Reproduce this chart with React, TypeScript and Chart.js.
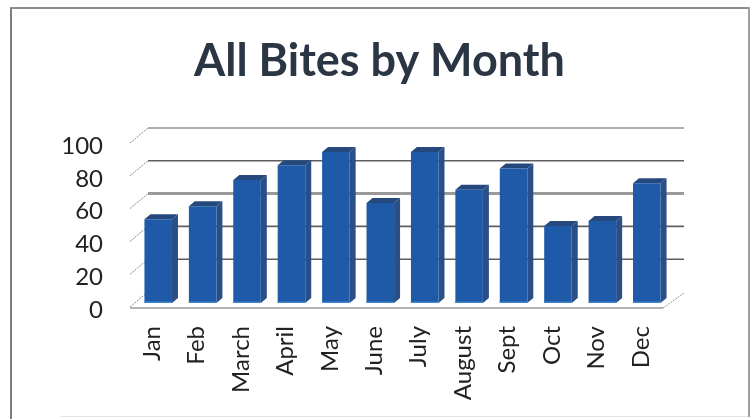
import React, { useEffect, useRef } from "react";
import { Chart, registerables } from "chart.js";

Chart.register(...registerables);

const title = "All Bites by Month";
const months = ["Jan", "Feb", "March", "April", "May", "June", "July", "August", "Sept", "Oct", "Nov", "Dec"];
const bites = [51, 59, 75, 84, 92, 61, 92, 69, 82, 47, 50, 73];
const yTicks = [0, 20, 40, 60, 80, 100];

const DX = 18;
const DY = -15;
const BAR_DX = 6;
const BAR_DY = -5;
const BAR_SHIFT_X = 6;
const BAR_SHIFT_Y = -4;

const frame3d = {
  id: "frame3d",
  afterLayout(chart: any) {
    chart.titleBlock.left += 28;
    chart.titleBlock.right += 28;
  },
  beforeDatasetsDraw(chart: any) {
    const { ctx, scales } = chart;
    const y = scales.y;
    const left = chart.chartArea.left;
    const right = chart.chartArea.right;
    ctx.save();
    yTicks.forEach((v) => {
      const py = y.getPixelForValue(v);
      ctx.strokeStyle = "#8a8a8a";
      ctx.lineWidth = 1;
      ctx.setLineDash([2, 1]);
      ctx.beginPath();
      ctx.moveTo(left, py);
      ctx.lineTo(left + DX, py + DY);
      ctx.stroke();
      ctx.setLineDash([]);
      if (v !== 0) {
        ctx.strokeStyle = v === 60 ? "#9a9a9a" : "#5f5f5f";
        ctx.lineWidth = v === 60 ? 3 : v === 100 ? 1 : 1.6;
        ctx.beginPath();
        ctx.moveTo(left + DX, py + DY);
        ctx.lineTo(right + DX + 3, py + DY);
        ctx.stroke();
      }
    });
    const p0 = y.getPixelForValue(0) + 1;
    ctx.strokeStyle = "#9a9a9a";
    ctx.lineWidth = 1.5;
    ctx.beginPath();
    ctx.moveTo(left, p0);
    ctx.lineTo(right, p0);
    ctx.stroke();
    ctx.lineWidth = 1;
    ctx.setLineDash([2, 1]);
    ctx.beginPath();
    ctx.moveTo(right, p0);
    ctx.lineTo(right + DX + 3, p0 + DY);
    ctx.stroke();
    ctx.restore();
  },
  beforeDatasetDraw(chart: any) {
    const { ctx } = chart;
    ctx.save();
    ctx.translate(BAR_SHIFT_X, BAR_SHIFT_Y);
    chart.getDatasetMeta(0).data.forEach((bar: any) => {
      const l = bar.x - bar.width / 2;
      const r = bar.x + bar.width / 2;
      const t = bar.y;
      const b = bar.base;
      ctx.fillStyle = "#2a4f86";
      ctx.beginPath();
      ctx.moveTo(r, t);
      ctx.lineTo(r + BAR_DX, t + BAR_DY);
      ctx.lineTo(r + BAR_DX, b + BAR_DY);
      ctx.lineTo(r, b);
      ctx.closePath();
      ctx.fill();
      ctx.fillStyle = "#26497d";
      ctx.beginPath();
      ctx.moveTo(l, t);
      ctx.lineTo(l + BAR_DX, t + BAR_DY);
      ctx.lineTo(r + BAR_DX, t + BAR_DY);
      ctx.lineTo(r, t);
      ctx.closePath();
      ctx.fill();
    });
  },
  afterDatasetDraw(chart: any) {
    const { ctx } = chart;
    ctx.fillStyle = "#3f86d0";
    chart.getDatasetMeta(0).data.forEach((bar: any) => {
      ctx.fillRect(bar.x - bar.width / 2, bar.base - 1.5, bar.width, 1.5);
    });
    ctx.restore();
  },
};

export default function App() {
  const ref = useRef<HTMLCanvasElement>(null);
  useEffect(() => {
    const chart = new Chart(ref.current!, {
      type: "bar",
      data: {
        labels: months,
        datasets: [
          {
            data: bites,
            backgroundColor: "#1f5aa8",
            borderWidth: 0,
            categoryPercentage: 1,
            barPercentage: 0.62,
          },
        ],
      },
      options: {
        responsive: false,
        animation: false,
        layout: { padding: { left: 40, right: 87, top: 34, bottom: 0 } },
        plugins: {
          legend: { display: false },
          tooltip: { enabled: false },
          title: {
            display: true,
            text: title,
            color: "#2b3644",
            font: { family: "Lato", size: 45, weight: "bold" },
            padding: { top: 0, bottom: 55 },
          },
        },
        scales: {
          x: {
            grid: { display: false },
            border: { display: false },
            afterFit: (axis: any) => {
              axis.height = 112;
            },
            ticks: {
              color: "#222222",
              font: { family: "Lato", size: 24 },
              minRotation: 90,
              maxRotation: 90,
              autoSkip: false,
              padding: 11,
            },
          },
          y: {
            min: 0,
            max: 100,
            grid: { display: false },
            border: { display: false },
            afterFit: (axis: any) => {
              axis.width = 90;
            },
            afterBuildTicks: (axis: any) => {
              axis.ticks = yTicks.map((value) => ({ value }));
            },
            ticks: {
              color: "#222222",
              font: { family: "Lato", size: 24 },
              padding: 19,
              labelOffset: 3,
            },
          },
        },
      },
      plugins: [frame3d],
    } as any);
    return () => chart.destroy();
  }, []);
  const line = { position: "absolute" as const };
  return (
    <div style={{ position: "fixed", left: 0, top: 0, width: 750, height: 419, background: "#ffffff" }}>
      <div style={{ ...line, left: 10, top: 7, width: 2, height: 412, background: "#7d7d7d" }} />
      <div style={{ ...line, left: 10, top: 7, width: 738, height: 1.5, background: "#8c8c8c" }} />
      <div style={{ ...line, left: 748, top: 7, width: 1.5, height: 410, background: "#a0a0a0" }} />
      <div style={{ ...line, left: 60, top: 416, width: 688, height: 1, background: "#e8e4e4" }} />
      <canvas ref={ref} width={750} height={419} style={{ position: "absolute", left: 0, top: 0 }} />
    </div>
  );
}
